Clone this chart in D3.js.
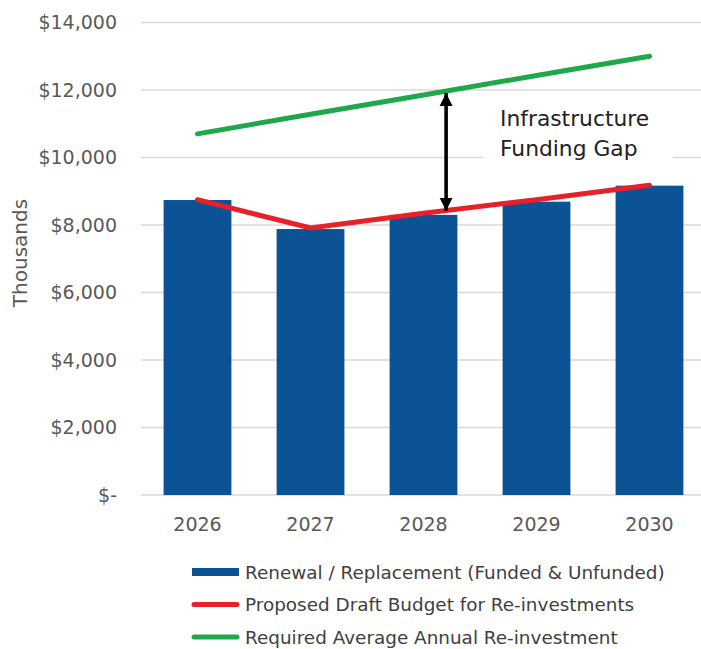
<html><head><title>Infrastructure Funding Gap</title>
<style>
    body {
        margin: 0;
        background: #ffffff;
        font-family: 'DejaVu Sans', sans-serif;
    }
    svg { display: block; }
</style>
</head>
<body>
<svg id="chart" width="701" height="649"></svg>
<script src="https://d3js.org/d3.v7.min.js"></script>
<script>
    const years = ["2026", "2027", "2028", "2029", "2030"];
    const renewal = [8740, 7880, 8300, 8690, 9165];
    const proposed = [8750, 7910, 8350, 8750, 9180];
    const required = [10700, 11280, 11850, 12430, 13000];
    const yTicks = [0, 2000, 4000, 6000, 8000, 10000, 12000, 14000];
    const legendLabels = [
        "Renewal / Replacement (Funded & Unfunded)",
        "Proposed Draft Budget for Re-investments",
        "Required Average Annual Re-investment"
    ];
    // gap arrow: position between 2028 and 2029, from red line up to green line
    const gapAt = 2.2;
    const gapFrom = 8420, gapTo = 11910;

    const blue = "#0b5394", red = "#e8202a", green = "#1fa84a";

    const svg = d3.select("#chart");

    const x = d3.scaleBand().domain(years).range([141, 706]).paddingInner(0.4).paddingOuter(0.2);
    const y = d3.scaleLinear().domain([0, 14000]).range([495, 22.5]);
    const cx = i => x(years[i]) + x.bandwidth() / 2;

    // gridlines
    svg.append("g")
        .selectAll("line")
        .data(yTicks)
        .join("line")
        .attr("x1", 141).attr("x2", 701)
        .attr("y1", d => y(d)).attr("y2", d => y(d))
        .attr("stroke", "#d9d9d9")
        .attr("stroke-width", 1.5);

    // y labels
    svg.append("g")
        .selectAll("text")
        .data(yTicks)
        .join("text")
        .attr("x", 117)
        .attr("y", d => y(d))
        .attr("dy", "0.36em")
        .attr("text-anchor", "end")
        .attr("font-size", 19)
        .attr("fill", "#595959")
        .text(d => d === 0 ? "$-" : "$" + d3.format(",")(d));

    svg.append("text")
        .attr("transform", "translate(27,253) rotate(-90)")
        .attr("text-anchor", "middle")
        .attr("font-size", 20)
        .attr("fill", "#595959")
        .text("Thousands");

    // bars
    svg.append("g")
        .selectAll("rect")
        .data(renewal)
        .join("rect")
        .attr("x", (d, i) => x(years[i]))
        .attr("width", x.bandwidth())
        .attr("y", d => y(d))
        .attr("height", d => y(0) - y(d))
        .attr("fill", blue);

    // x labels
    svg.append("g")
        .selectAll("text")
        .data(years)
        .join("text")
        .attr("x", (d, i) => cx(i))
        .attr("y", 531)
        .attr("text-anchor", "middle")
        .attr("font-size", 19)
        .attr("fill", "#595959")
        .text(d => d);

    // annotation box + text
    svg.append("rect")
        .attr("x", 483).attr("y", 100)
        .attr("width", 190).attr("height", 66)
        .attr("fill", "#fff");
    svg.append("text")
        .attr("x", 500).attr("y", 126)
        .attr("font-size", 21.8)
        .attr("fill", "#222")
        .selectAll("tspan")
        .data(["Infrastructure", "Funding Gap"])
        .join("tspan")
        .attr("x", 500)
        .attr("dy", (d, i) => i ? 30 : 0)
        .text(d => d);

    const line = d3.line().x((d, i) => cx(i)).y(d => y(d));

    svg.append("path")
        .datum(proposed)
        .attr("d", line)
        .attr("fill", "none")
        .attr("stroke", red)
        .attr("stroke-width", 5)
        .attr("stroke-linecap", "round");

    svg.append("path")
        .datum(required)
        .attr("d", line)
        .attr("fill", "none")
        .attr("stroke", green)
        .attr("stroke-width", 5)
        .attr("stroke-linecap", "round");

    // double arrow
    const defs = svg.append("defs");
    defs.append("marker")
        .attr("id", "head")
        .attr("viewBox", "0 0 10 10")
        .attr("refX", 10).attr("refY", 5)
        .attr("markerWidth", 3.6).attr("markerHeight", 3.8)
        .attr("markerUnits", "strokeWidth")
        .attr("orient", "auto-start-reverse")
        .append("path")
        .attr("d", "M0,0 L10,5 L0,10 Z")
        .attr("fill", "#000");

    const ax = cx(0) + gapAt * x.step();
    svg.append("line")
        .attr("x1", ax).attr("x2", ax)
        .attr("y1", y(gapFrom)).attr("y2", y(gapTo))
        .attr("stroke", "#000")
        .attr("stroke-width", 3.6)
        .attr("marker-start", "url(#head)")
        .attr("marker-end", "url(#head)");

    // legend
    const legend = svg.append("g");
    const rows = legend.selectAll("g")
        .data(legendLabels)
        .join("g")
        .attr("transform", (d, i) => `translate(0,${572 + i * 32.5})`);

    rows.each(function(d, i) {
        const g = d3.select(this);
        if (i === 0) {
            g.append("rect").attr("x", 192).attr("y", -4).attr("width", 47).attr("height", 8).attr("fill", blue);
        } else {
            g.append("line").attr("x1", 194).attr("x2", 237).attr("y1", 0).attr("y2", 0)
                .attr("stroke", i === 1 ? red : green)
                .attr("stroke-width", 5)
                .attr("stroke-linecap", "round");
        }
        g.append("text")
            .attr("x", 245)
            .attr("dy", "0.36em")
            .attr("font-size", 18.4)
            .attr("fill", "#404040")
            .text(d);
    });
</script>
</body>
</html>
